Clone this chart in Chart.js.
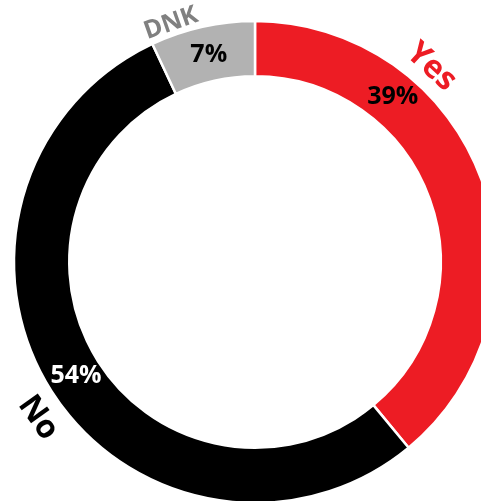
<!DOCTYPE html>
<html>
<head>
<meta charset="utf-8">
<script src="https://cdn.jsdelivr.net/npm/chart.js@4"></script>
<style>
    html, body { margin: 0; padding: 0; background: #fff; overflow: hidden; }
    #wrap { position: absolute; left: 0; top: 0; width: 510px; height: 524px; }
</style>
</head>
<body>
<div id="wrap"><canvas id="donut" width="510" height="524"></canvas></div>
<script>
const categories = ['Yes', 'No', 'DNK'];
const shares = [39, 54, 7];
const sliceColors = ['#ed1c24', '#000000', '#b2b2b2'];
const nameColors = ['#ed1c24', '#000000', '#808080'];
const valueColors = ['#000000', '#ffffff', '#000000'];

// where the texts sit inside each slice: fraction of the arc, distance from centre
const valuePlace = [{ f: 0.284, r: 215 }, { f: 0.5, r: 212 }, { f: 0.5, r: 212 }];
const namePlace = [{ f: 0.30, r: 263, size: 32 }, { f: 0.483, r: 267, size: 32 }, { f: 0.23, r: 253, size: 25 }];

const ringLabels = {
    id: 'ringLabels',
    afterDatasetsDraw(chart) {
        const ctx = chart.ctx;
        const arcs = chart.getDatasetMeta(0).data;
        arcs.forEach((arc, i) => {
            const { x, y, startAngle, endAngle } = arc.getProps(['x', 'y', 'startAngle', 'endAngle'], true);

            // percentage
            const vp = valuePlace[i];
            const va = startAngle + (endAngle - startAngle) * vp.f;
            ctx.save();
            ctx.font = 'bold 25px "Open Sans"';
            ctx.fillStyle = valueColors[i];
            ctx.textAlign = 'center';
            ctx.textBaseline = 'middle';
            ctx.fillText(shares[i] + '%', x + vp.r * Math.cos(va), y + vp.r * Math.sin(va));
            ctx.restore();

            // category name, turned along the ring
            const np = namePlace[i];
            const na = startAngle + (endAngle - startAngle) * np.f;
            let rot = na + Math.PI / 2;
            if (Math.sin(na) > 0.2) rot -= Math.PI;
            ctx.save();
            ctx.translate(x + np.r * Math.cos(na), y + np.r * Math.sin(na));
            ctx.rotate(rot);
            ctx.font = 'bold ' + np.size + 'px "Open Sans"';
            ctx.fillStyle = nameColors[i];
            ctx.textAlign = 'center';
            ctx.textBaseline = 'middle';
            ctx.fillText(categories[i], 0, 0);
            ctx.restore();
        });
    }
};

new Chart(document.getElementById('donut'), {
    type: 'doughnut',
    data: {
        labels: categories,
        datasets: [{
            data: shares,
            backgroundColor: sliceColors,
            borderColor: '#ffffff',
            borderWidth: 2.5
        }]
    },
    options: {
        responsive: false,
        animation: false,
        radius: 241,
        cutout: 184,
        layout: { padding: { left: 15, top: 22, right: 15, bottom: 22 } },
        plugins: {
            legend: { display: false },
            tooltip: { enabled: false }
        }
    },
    plugins: [ringLabels]
});
</script>
</body>
</html>
